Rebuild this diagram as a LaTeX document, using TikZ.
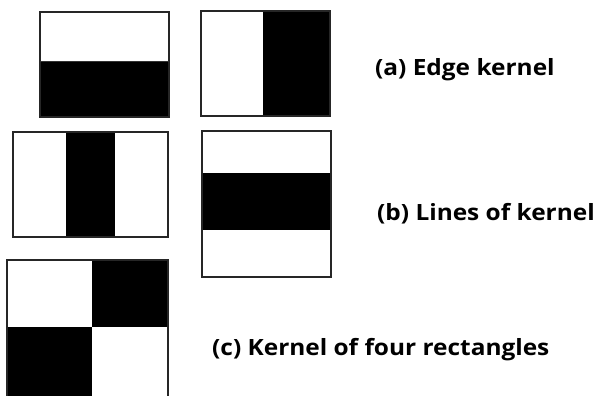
\documentclass[tikz,border=0pt]{standalone}
\usepackage{fontspec}
\setmainfont{Open Sans}
\newcommand{\wlbl}[1]{\scalebox{1.09}[1]{#1}}
\begin{document}
\begin{tikzpicture}[x=1pt,y=-1pt,
  frame/.style={draw=black!85,line width=1.3pt},
  blk/.style={fill=black},
  lbl/.style={font=\bfseries\fontsize{22.4}{26}\selectfont,anchor=base west,inner sep=0pt}]
\useasboundingbox (0,0) rectangle (598,396);
% (a) edge kernel, horizontal
\fill[blk] (40,61) rectangle (169,117);
\draw[frame] (40,12) rectangle (169,117);
\draw[black!80,line width=0.8pt] (40,61) -- (169,61);
% (a) edge kernel, vertical
\fill[blk] (263,11) rectangle (330,116);
\draw[frame] (201,11) rectangle (330,116);
% (b) vertical line
\fill[blk] (66,132) rectangle (115,237);
\draw[frame] (13,132) rectangle (168,237);
% (b) horizontal line
\fill[blk] (202,173) rectangle (331,230);
\draw[frame] (202,131) rectangle (331,277);
% (c) four rectangles
\fill[blk] (92,260) rectangle (168,327);
\fill[blk] (7,327) rectangle (92,397);
\draw[frame] (7,260) rectangle (168,400);
% labels
\node[lbl] (la) at (375,76) {\wlbl{(a) Edge kernel}};
\node[lbl] (lb) at (377,220) {\wlbl{(b) Lines of kernel}};
\node[lbl] (lc) at (212,355) {\wlbl{(c) Kernel of four rectangles}};
\end{tikzpicture}
\end{document}
